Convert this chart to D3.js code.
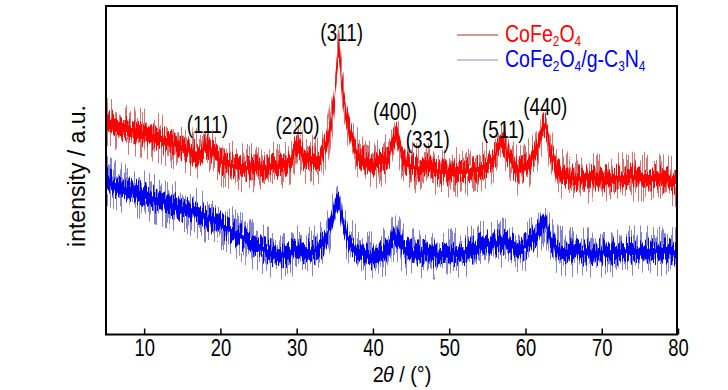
<!DOCTYPE html>
<html><head><meta charset="utf-8">
<script src="https://cdn.jsdelivr.net/npm/d3@7/dist/d3.min.js"></script>
<style>body{margin:0;background:#fff}svg{display:block}text{font-family:"Liberation Sans",Arial,sans-serif}</style>
</head><body>
<script>
// 2θ (degrees) sample positions
const angles = [5,7,10,13,15,17,18.3,19.5,22,25,28,29.3,30.1,31,32.5,33.5,34.3,35,35.5,36,36.8,38,40,42,43,44,46,47,48,50,53,55,56,57,58,59,60.5,61.5,62.5,63.3,64.5,67,70,75,80];
// intensity (a.u.), CoFe2O4
const cofe2o4 = [214,207,201,193,187,181,189,176,168,166,170,176,191,176,174,184,204,239,282,246,209,182,171,177,199,176,166,169,164,162,164,171,179,192,174,164,172,186,209,184,162,156,156,158,152];
// intensity (a.u.), CoFe2O4/g-C3N4
const composite = [154,147,139,131,126,121,116,112,101,87,80,82,87,82,84,92,106,126,132,112,96,84,78,86,98,86,81,82,80,81,84,91,91,92,89,86,91,101,112,94,84,82,82,84,82];
const xTicks = [10,20,30,40,50,60,70,80];
const peakLabels = ["(111)","(220)","(311)","(400)","(331)","(511)","(440)"];
const peakAngles = [18.3,30.1,35.9,42.9,47.2,57.1,62.6];
const peakLabelLevels = [202,201,294,215,187,197,220];

const W=728,H=390, L=106,R=678,T=6,B=334.5;
const x = d3.scaleLinear().domain([5,80]).range([L,R]);
const y = d3.scaleLinear().domain([0,328.5]).range([B,T]);

const svg = d3.select("body").append("svg").attr("width",W).attr("height",H);
const defs = svg.append("defs");
defs.append("clipPath").attr("id","clip").append("rect").attr("x",L).attr("y",T).attr("width",R-L).attr("height",B-T);
function noiseFilter(id, seed, scale, fx){
  const f = defs.append("filter").attr("id",id).attr("filterUnits","userSpaceOnUse")
    .attr("x",0).attr("y",0).attr("width",W).attr("height",H);
  f.append("feTurbulence").attr("type","fractalNoise").attr("baseFrequency",fx+" 0.015")
    .attr("numOctaves",2).attr("seed",seed).attr("result","t");
  f.append("feColorMatrix").attr("in","t").attr("type","matrix")
    .attr("values","0 0 0 0 0.5  0 3 0 0 -1  0 0 0 0 0.5  0 0 0 0 1").attr("result","m");
  f.append("feDisplacementMap").attr("in","SourceGraphic").attr("in2","m")
    .attr("scale",scale).attr("xChannelSelector","R").attr("yChannelSelector","G");
}
noiseFilter("nA",3,30,0.8);
noiseFilter("nB",7,12,0.9);
noiseFilter("nC",11,30,0.8);
noiseFilter("nD",17,12,0.9);

const plot = svg.append("g").attr("clip-path","url(#clip)");
function band(vals, half){
  return d3.area().x((d,i)=>x(angles[i])).y0((d)=>y(d)-half).y1((d)=>y(d)+half).curve(d3.curveMonotoneX)(vals);
}
const series = [
  {vals:cofe2o4, outer:"#c04848", core:"#ff0000", fa:"nA", fb:"nB"},
  {vals:composite, outer:"#5a5ac0", core:"#0000f0", fa:"nC", fb:"nD"}
];
series.forEach(s=>{
  plot.append("path").attr("d",band(s.vals,10)).attr("fill",s.outer).attr("opacity",0.75).attr("filter",`url(#${s.fa})`);
  plot.append("path").attr("d",band(s.vals,8)).attr("fill",s.core).attr("filter",`url(#${s.fb})`);
});

// axes
const ax = svg.append("g").attr("transform",`translate(0,${B})`)
  .call(d3.axisBottom(x).tickValues(xTicks).tickSizeInner(-6).tickSizeOuter(0).tickFormat(d3.format("d")));
ax.select(".domain").remove();
ax.selectAll(".tick line").attr("stroke","#000").attr("stroke-width",1.5);
ax.selectAll(".tick text").attr("y",null).attr("dy",null).attr("font-size",23).attr("fill","#000")
  .attr("transform","translate(0,21.5) scale(0.8,1)");
svg.append("rect").attr("x",L).attr("y",T).attr("width",R-L-1).attr("height",B-T)
  .attr("fill","none").attr("stroke","#000").attr("stroke-width",2);

function sText(xp,yp,sx,size,str,anchor){
  return svg.append("text").attr("transform",`translate(${xp},${yp}) scale(${sx},1)`)
    .attr("font-size",size).attr("text-anchor",anchor||"middle").text(str);
}
peakLabels.forEach((t,i)=>sText(x(peakAngles[i]),y(peakLabelLevels[i]),0.82,23,t));

// axis titles
const xt = svg.append("text").attr("transform",`translate(402,382) scale(0.9,1)`).attr("font-size",22).attr("text-anchor","middle");
xt.append("tspan").text("2");
xt.append("tspan").attr("font-style","italic").attr("dx",-1).text("θ");
xt.append("tspan").text(" / (°)");
svg.append("text").attr("transform","translate(85,176) rotate(-90)").attr("font-size",23).attr("text-anchor","middle").text("intensity / a.u.");

// legend
const legend = [
  {parts:[["CoFe",0],["2",1],["O",0],["4",1]], line:"#a83030", color:"#ff0000"},
  {parts:[["CoFe",0],["2",1],["O",0],["4",1],["/g-C",0],["3",1],["N",0],["4",1]], line:"#8a8ac8", color:"#0000ee"}
];
legend.forEach((l,i)=>{
  const ly = 35 + i*25;
  svg.append("line").attr("x1",457).attr("x2",498).attr("y1",ly).attr("y2",ly).attr("stroke",l.line).attr("stroke-width",1);
  const t = svg.append("text").attr("transform",`translate(505,${ly+7}) scale(0.85,1)`).attr("font-size",23).attr("fill",l.color);
  let sub=false;
  l.parts.forEach(([s,isSub])=>{
    const ts = t.append("tspan").text(s);
    if(isSub){ ts.attr("font-size",14).attr("dy",sub?0:4); sub=true; }
    else { if(sub){ ts.attr("dy",-4); } sub=false; }
  });
});
</script>
</body></html>
